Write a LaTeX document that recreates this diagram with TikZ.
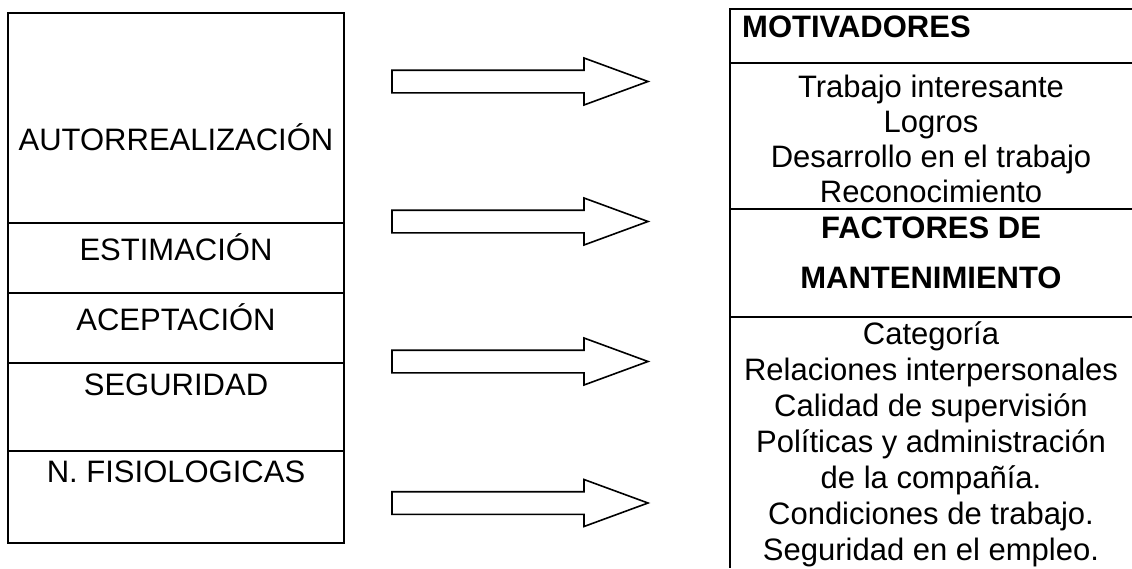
\documentclass[tikz,border=0pt]{standalone}
\usepackage{fontspec}
\setmainfont{Liberation Sans}
\begin{document}
\begin{tikzpicture}[x=1pt,y=-1pt,
  frame/.style={line width=1.5pt},
  lbl/.style={anchor=base, inner sep=0pt, font=\fontsize{31}{36}\selectfont},
  hdr/.style={lbl, font=\fontsize{31}{36}\selectfont\bfseries},
  fat/.style={draw, line width=1.6pt, line join=miter, fill=white}]
\useasboundingbox (0,0) rectangle (1132,568);
% ---- left column (Maslow)
\draw[frame] (8,13) rectangle (344,543);
\foreach \y in {223,293,363,451} \draw[frame] (8,\y) -- (344,\y);
\node[lbl] (auto) at (176,150) {AUTORREALIZACIÓN};
\node[lbl] (esti) at (176,260) {ESTIMACIÓN};
\node[lbl] (acep) at (176,330) {ACEPTACIÓN};
\node[lbl] (segu) at (176,395) {SEGURIDAD};
\node[lbl] (fisi) at (176,482) {N. FISIOLOGICAS};
% ---- arrows
\foreach \c in {81.5,221.5,361.5,503}
  \draw[fat] (392,\c-11.3) -- (584,\c-11.3) -- (584,\c-23.5) -- (648,\c)
     -- (584,\c+23.5) -- (584,\c+11.3) -- (392,\c+11.3) -- cycle;
% ---- right column (Herzberg)
\draw[frame] (1132,9) -- (730,9) -- (730,568);
\foreach \y in {63,209,317} \draw[frame] (730,\y) -- (1132,\y);
\node[hdr, anchor=base west] (mot) at (742,37) {MOTIVADORES};
\node[lbl] (m1) at (931,97) {Trabajo interesante};
\node[lbl] (m2) at (931,132) {Logros};
\node[lbl] (m3) at (931,167) {Desarrollo en el trabajo};
\node[lbl] (m4) at (931,202) {Reconocimiento};
\node[hdr] (fac1) at (931,238) {FACTORES DE};
\node[hdr] (fac2) at (931,288) {MANTENIMIENTO};
\node[lbl] (f1) at (931,344.5) {Categoría};
\node[lbl] (f2) at (931,380.5) {Relaciones interpersonales};
\node[lbl] (f3) at (931,416.5) {Calidad de supervisión};
\node[lbl] (f4) at (931,452.5) {Políticas y administración};
\node[lbl] (f5) at (931,488.5) {de la compañía.};
\node[lbl] (f6) at (931,524.5) {Condiciones de trabajo.};
\node[lbl] (f7) at (931,560.5) {Seguridad en el empleo.};
\end{tikzpicture}
\end{document}
